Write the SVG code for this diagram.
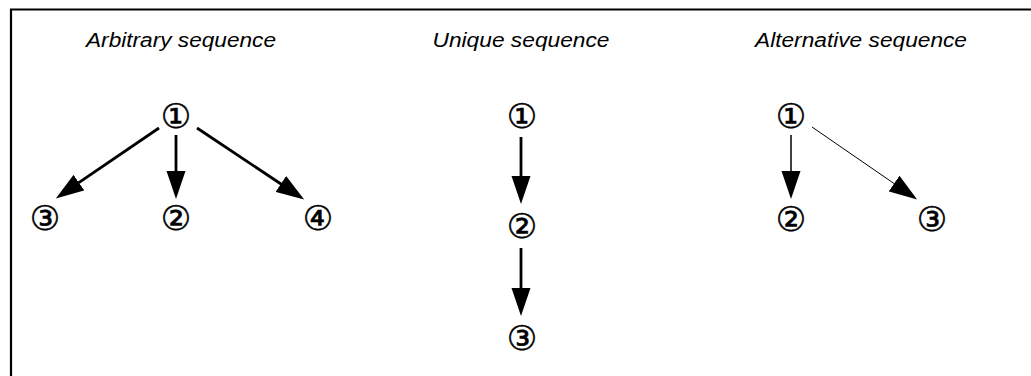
<svg xmlns="http://www.w3.org/2000/svg" width="1031" height="376" viewBox="0 0 1031 376">
<style>
.title{font-family:"Liberation Sans",Arial,sans-serif;font-style:italic;font-size:20px;fill:#000;text-anchor:middle}
.num{font-family:"DejaVu Sans","Noto Sans CJK JP",sans-serif;font-size:34px;fill:#000;stroke:#000;stroke-width:0.5;text-anchor:middle;dominant-baseline:central}
.thick{stroke:#000;stroke-width:2.8;fill:none}
.thin{stroke:#000;stroke-width:1;fill:none}
.med{stroke:#000;stroke-width:1.5;fill:none}
</style>
<defs>
<marker id="ah" markerUnits="userSpaceOnUse" viewBox="0 -10 28 20" markerWidth="28" markerHeight="20" refX="1" refY="0" orient="auto">
<path d="M0,-9.5 L28,0 L0,9.5 z" fill="#000"/>
</marker>
</defs>
<rect width="1031" height="376" fill="#fff"/>
<g id="frame">
<path d="M11,376 V9.5 H1031" stroke="#000" stroke-width="2.2" fill="none"/>
</g>
<g id="titles">
<text class="title" x="181" y="47" textLength="190" lengthAdjust="spacingAndGlyphs">Arbitrary sequence</text>
<text class="title" x="521" y="47" textLength="177" lengthAdjust="spacingAndGlyphs">Unique sequence</text>
<text class="title" x="861" y="47" textLength="212" lengthAdjust="spacingAndGlyphs">Alternative sequence</text>
</g>
<g id="connectors">
<line class="thick" x1="159" y1="128" x2="78.1" y2="183.2" marker-end="url(#ah)"/>
<line class="thick" x1="176" y1="135" x2="176" y2="172" marker-end="url(#ah)"/>
<line class="thick" x1="197" y1="128" x2="281.7" y2="184.5" marker-end="url(#ah)"/>
<line class="thick" x1="521" y1="137" x2="521" y2="177" marker-end="url(#ah)"/>
<line class="thick" x1="521" y1="248" x2="521" y2="289" marker-end="url(#ah)"/>
<line class="med" x1="791" y1="135" x2="791" y2="172" marker-end="url(#ah)"/>
<line class="thin" x1="812" y1="127" x2="894.9" y2="184.1" marker-end="url(#ah)"/>
</g>
<g id="a1"><text class="num" x="176" y="116">①</text></g>
<g id="a3"><text class="num" x="45" y="218">③</text></g>
<g id="a2"><text class="num" x="176" y="218">②</text></g>
<g id="a4"><text class="num" x="318" y="218">④</text></g>
<g id="u1"><text class="num" x="522" y="116">①</text></g>
<g id="u2"><text class="num" x="522" y="226">②</text></g>
<g id="u3"><text class="num" x="522" y="338">③</text></g>
<g id="l1"><text class="num" x="791" y="116">①</text></g>
<g id="l2"><text class="num" x="791" y="219">②</text></g>
<g id="l3"><text class="num" x="932" y="219">③</text></g>
</svg>
